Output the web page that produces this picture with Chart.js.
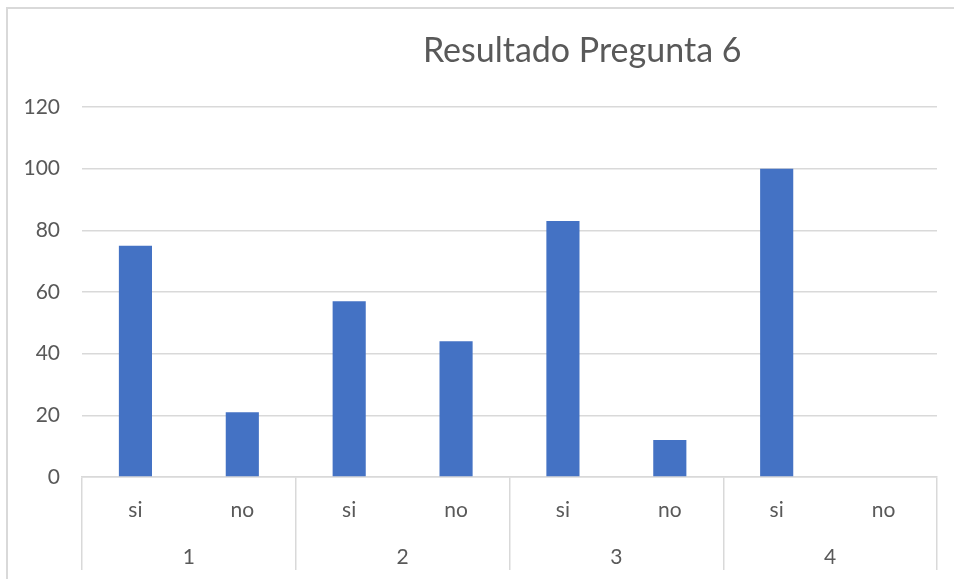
<!DOCTYPE html>
<html>
<head>
<meta charset="utf-8">
<script src="https://cdn.jsdelivr.net/npm/chart.js@4"></script>
<style>
  html, body { margin: 0; padding: 0; background: #fff; overflow: hidden; }
  #wrap { position: relative; width: 954px; height: 579px; }
  #frame { position: absolute; left: 6px; top: 7px; width: 960px; height: 600px;
           border-top: 2px solid #d9d9d9; border-left: 2px solid #d9d9d9; pointer-events: none; }
</style>
</head>
<body>
<div id="wrap">
  <canvas id="c" width="954" height="579"></canvas>
  <div id="frame"></div>
</div>
<script>
const titleText = 'Resultado Pregunta 6';
const answers = ['si', 'no', 'si', 'no', 'si', 'no', 'si', 'no'];
const groups = ['1', '2', '3', '4'];
const values = [75, 21, 57, 44, 83, 12, 100, 0];
const yTicks = [0, 20, 40, 60, 80, 100, 120];

const textColor = '#595959';
const lineColor = '#d9d9d9';
const fontFamily = 'Lato, "Open Sans", sans-serif';

const titlePlugin = {
  id: 'offsetTitle',
  afterDraw(chart) {
    const ctx = chart.ctx;
    const area = chart.chartArea;
    ctx.save();
    ctx.font = '34px ' + fontFamily;
    ctx.fillStyle = textColor;
    ctx.textAlign = 'center';
    ctx.textBaseline = 'alphabetic';
    ctx.fillText(titleText, area.left + (area.right - area.left) * 0.585, 62);
    ctx.restore();
  }
};

new Chart(document.getElementById('c'), {
  type: 'bar',
  data: {
    labels: answers,
    datasets: [{
      data: values,
      backgroundColor: '#4472c4',
      borderWidth: 0,
      categoryPercentage: 1,
      barPercentage: 0.31
    }]
  },
  options: {
    responsive: false,
    animation: false,
    layout: { padding: { left: 0, top: 107, right: 17, bottom: 9 } },
    plugins: { legend: { display: false }, title: { display: false }, tooltip: { enabled: false } },
    scales: {
      y: {
        min: 0, max: 120,
        afterBuildTicks(scale) { scale.ticks = yTicks.map(v => ({ value: v })); },
        afterFit(scale) { scale.width = 82; },
        grid: { color: lineColor, lineWidth: 1.5, drawTicks: false },
        border: { display: false },
        ticks: { color: textColor, font: { family: fontFamily, size: 21 }, padding: 22 }
      },
      x: {
        type: 'category',
        weight: 1,
        offset: true,
        afterFit(scale) { scale.height = 55; },
        border: { display: true, color: lineColor, width: 1.5 },
        grid: {
          offset: true,
          drawOnChartArea: false,
          drawTicks: true,
          tickLength: 55,
          lineWidth: 1.5,
          color(ctx) {
            if (ctx.index === undefined) return lineColor;
            return ctx.index % 2 === 0 ? lineColor : 'rgba(0,0,0,0)';
          }
        },
        ticks: { color: textColor, font: { family: fontFamily, size: 21 }, padding: -34, maxRotation: 0, autoSkip: false }
      },
      x2: {
        type: 'category',
        position: 'bottom',
        weight: 2,
        labels: groups,
        offset: true,
        afterFit(scale) { scale.height = 38; },
        border: { display: false },
        grid: {
          offset: true,
          drawOnChartArea: false,
          drawTicks: true,
          tickLength: 38,
          lineWidth: 1.5,
          color: lineColor
        },
        ticks: { color: textColor, font: { family: fontFamily, size: 21 }, padding: -25, maxRotation: 0, autoSkip: false }
      }
    }
  },
  plugins: [titlePlugin]
});
</script>
</body>
</html>
